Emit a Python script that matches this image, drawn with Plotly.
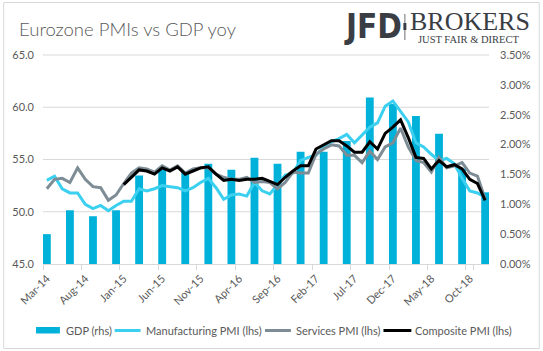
import plotly.graph_objects as go
import pandas as pd

# ---------------- data ----------------
months = [d.strftime("%b-%y") for d in pd.date_range("2014-03-01", "2018-12-01", freq="MS")]

manufacturing = [53.0, 53.4, 52.2, 51.8, 51.8, 50.7, 50.3, 50.6, 50.1, 50.6,
                 51.0, 51.0, 52.2, 52.0, 52.2, 52.5, 52.4, 52.3, 52.0, 52.3, 52.8, 53.2,
                 52.3, 51.2, 51.6, 51.7, 51.5, 52.8, 52.0, 51.7, 52.6, 53.5, 53.7, 54.9,
                 55.2, 55.4, 56.2, 56.7, 57.0, 57.4, 56.6, 57.4, 58.1, 58.5, 60.1, 60.6,
                 59.6, 58.6, 56.6, 56.2, 55.5, 54.9, 55.1, 54.6, 53.2, 52.0, 51.8, 51.4]

services = [52.2, 53.1, 53.2, 52.8, 54.2, 53.1, 52.4, 52.3, 51.1, 51.6,
            52.7, 53.7, 54.2, 54.1, 53.8, 54.4, 54.0, 54.4, 53.7, 54.1, 54.2, 54.2,
            53.6, 53.3, 53.1, 53.1, 53.3, 52.8, 52.9, 52.8, 52.2, 52.8, 53.8, 53.7,
            53.7, 55.5, 56.0, 56.4, 56.3, 55.4, 55.4, 54.7, 55.8, 55.0, 56.2, 56.6,
            58.0, 56.2, 54.9, 54.7, 53.8, 55.2, 54.2, 54.4, 54.7, 53.7, 53.4, 51.2]

composite = [None] * 10 + [
             52.6, 53.3, 54.0, 53.9, 53.6, 54.2, 53.9, 54.3, 53.6, 53.9, 54.2, 54.3,
             53.6, 53.0, 53.1, 53.0, 53.1, 53.1, 53.2, 52.9, 52.6, 53.3, 53.9, 54.4,
             54.4, 56.0, 56.4, 56.8, 56.8, 56.3, 55.7, 55.7, 56.7, 56.0, 57.5, 58.1,
             58.8, 57.1, 55.2, 55.1, 54.1, 54.9, 54.3, 54.5, 54.1, 53.1, 52.7, 51.1]

# quarterly GDP yoy (%), Mar-14 ... Dec-18
gdp_quarterly = [0.50, 0.90, 0.80, 0.90, 1.48, 1.58, 1.55, 1.68, 1.58, 1.78,
                 1.68, 1.88, 1.88, 2.06, 2.79, 2.68, 2.48, 2.18, 1.60, 1.20]
gdp_months = months[::3]

tick_labels = months[::5]
pmi_grid = [50, 55, 60, 65]

series_names = ["GDP (rhs)", "Manufacturing PMI (lhs)", "Services PMI (lhs)", "Composite PMI (lhs)"]
series_colors = ["#00B2DA", "#3CD0F0", "#7D8C95", "#000000"]

# ---------------- layout helpers ----------------
W, H = 543, 351
L, R, T, B = 42, 53, 55, 87
PW, PH = W - L - R, H - T - B
PMI_MIN, PMI_MAX = 45, 65


def fx(px):
    return (px - L) / PW


def fy(py):
    return (H - B - py) / PH


FONT = "Lato, 'Noto Sans', sans-serif"
GREY_TXT = "#595959"
GRID = "#d9d9d9"
LOGO = "#3a3e44"

fig = go.Figure()

fig.add_trace(go.Bar(x=gdp_months, y=gdp_quarterly, name=series_names[0], yaxis="y",
                     marker=dict(color=series_colors[0], line=dict(width=0)), width=1.02))
for name, vals, col in zip(series_names[1:], [manufacturing, services, composite], series_colors[1:]):
    fig.add_trace(go.Scatter(x=months, y=vals, name=name, yaxis="y2",
                             mode="lines", line=dict(color=col, width=3)))

fig.update_layout(
    width=W, height=H,
    margin=dict(l=L, r=R, t=T, b=B),
    paper_bgcolor="white", plot_bgcolor="rgba(0,0,0,0)",
    font=dict(family=FONT, size=11, color=GREY_TXT),
    showlegend=False,
    xaxis=dict(type="category", categoryorder="array", categoryarray=months,
               range=[-0.5, len(months) - 0.5],
               tickmode="array", tickvals=tick_labels, ticktext=tick_labels,
               tickson="boundaries", ticks="outside", ticklen=5, tickcolor=GRID,
               tickangle=-45, showgrid=False, showline=True, linecolor=GRID,
               ticklabelstandoff=3,
               tickfont=dict(size=11, color=GREY_TXT)),
    yaxis=dict(range=[0, 3.5], dtick=0.5, tickformat=".2f", ticksuffix="%",
               side="right", showgrid=False, zeroline=False,
               showline=False, ticks="", ticklabelstandoff=10,
               tickfont=dict(size=11, color=GREY_TXT)),
    yaxis2=dict(range=[PMI_MIN, PMI_MAX], dtick=5, tickformat=".1f", overlaying="y", side="left",
                showgrid=False, zeroline=False, showline=False, ticks="", ticklabelstandoff=8,
                tickfont=dict(size=11, color=GREY_TXT)),
)

annotations = [
    dict(text="Eurozone PMIs vs GDP yoy", x=fx(16), y=fy(29), xref="paper", yref="paper",
         xanchor="left", yanchor="middle", showarrow=False,
         font=dict(family=FONT, size=18.5, color=GREY_TXT, weight=300)),
    dict(text="<b>JFD</b>", x=fx(342), y=fy(26), xref="paper", yref="paper",
         xanchor="left", yanchor="middle", showarrow=False,
         font=dict(family="'Liberation Sans Narrow', 'DejaVu Sans Condensed', sans-serif",
                   size=33, color=LOGO)),
    dict(text="BROKERS", x=fx(409), y=fy(21.5), xref="paper", yref="paper",
         xanchor="left", yanchor="middle", showarrow=False,
         font=dict(family="'Liberation Serif', serif", size=26, color=LOGO)),
    dict(text="JUST FAIR &amp; DIRECT", x=fx(469), y=fy(40), xref="paper", yref="paper",
         xanchor="center", yanchor="middle", showarrow=False,
         font=dict(family="'Liberation Serif', serif", size=10.5, color=LOGO)),
]

shapes = [
    dict(type="rect", xref="paper", yref="paper", x0=fx(2.5), x1=fx(540.5), y0=fy(348.5), y1=fy(2.5),
         line=dict(color=GRID, width=1), fillcolor="rgba(0,0,0,0)", layer="below"),
    dict(type="line", xref="paper", yref="paper", x0=fx(405.5), x1=fx(405.5), y0=fy(14), y1=fy(40),
         line=dict(color="#6a6e74", width=1)),
    dict(type="line", xref="paper", yref="paper", x0=fx(405.5), x1=fx(405.5), y0=fy(23), y1=fy(30),
         line=dict(color=LOGO, width=3)),
]
# horizontal gridlines at PMI levels, drawn beneath the bars
for v in pmi_grid:
    yy = (v - PMI_MIN) / (PMI_MAX - PMI_MIN)
    shapes.append(dict(type="line", xref="paper", yref="paper", x0=0, x1=1, y0=yy, y1=yy,
                       line=dict(color=GRID, width=1), layer="below"))

# legend drawn at the bottom (swatch + label per series)
leg_y = 330.5
leg_sym = [(35, 59), (114, 140), (265, 291), (384, 412)]
leg_txt = [63, 143, 294, 414]
for i, (name, col) in enumerate(zip(series_names, series_colors)):
    x0, x1 = leg_sym[i]
    if i == 0:
        shapes.append(dict(type="rect", xref="paper", yref="paper", x0=fx(x0), x1=fx(x1),
                           y0=fy(leg_y + 3), y1=fy(leg_y - 3.5), line=dict(width=0), fillcolor=col))
    else:
        shapes.append(dict(type="line", xref="paper", yref="paper", x0=fx(x0), x1=fx(x1),
                           y0=fy(leg_y), y1=fy(leg_y), line=dict(color=col, width=3)))
    annotations.append(dict(text=name, x=fx(leg_txt[i]), y=fy(leg_y - 0.5), xref="paper", yref="paper",
                            xanchor="left", yanchor="middle", showarrow=False,
                            font=dict(family=FONT, size=11, color=GREY_TXT)))

fig.update_layout(annotations=annotations, shapes=shapes)

fig.write_html("out.html")
